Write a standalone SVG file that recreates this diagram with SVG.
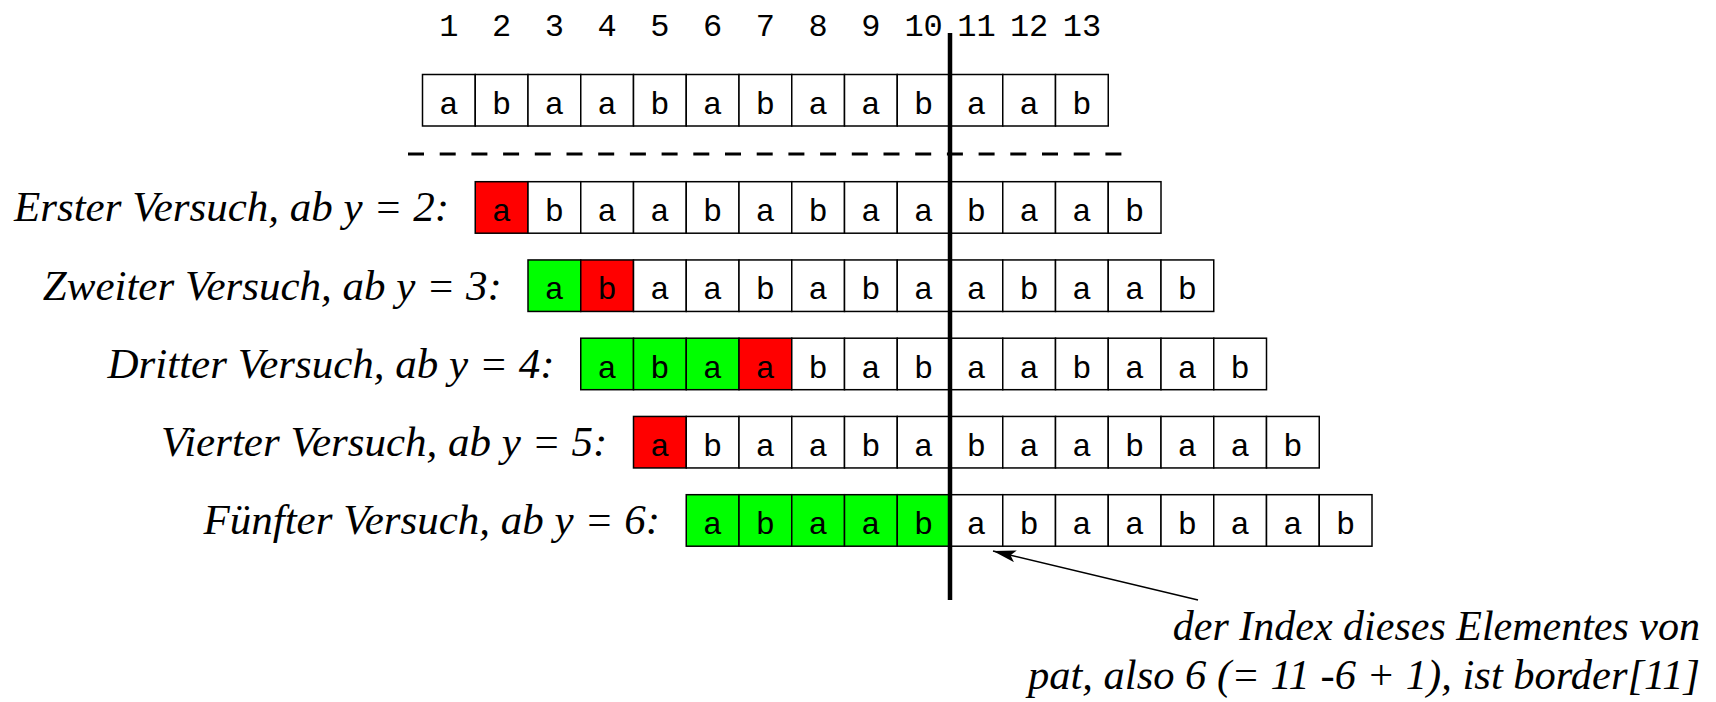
<svg xmlns="http://www.w3.org/2000/svg" width="1716" height="702" viewBox="0 0 1716 702">
<defs>
<style>
.c{fill:#fff;stroke:#000;stroke-width:1.5}
.r{fill:#ff0000;stroke:#000;stroke-width:1.5}
.g{fill:#00ff00;stroke:#000;stroke-width:1.5}
.m{font-family:"Liberation Mono","Courier New",monospace;font-size:32px;fill:#000;text-anchor:middle}
.l{font-family:"Liberation Serif","Times New Roman",serif;font-style:italic;font-size:43px;fill:#000;text-anchor:end}
.n{font-family:"Liberation Serif","Times New Roman",serif;font-style:italic;font-size:42px;fill:#000;text-anchor:end}
</style>
<marker id="ah" markerUnits="userSpaceOnUse" markerWidth="26" markerHeight="14" refX="23" refY="6" orient="auto">
<path d="M0,0 L23,6 L0,12 L5,6 z" fill="#000"/>
</marker>
</defs>
<rect width="1716" height="702" fill="#fff"/>

<g id="indices" class="m">
<text x="448.9" y="36">1</text>
<text x="501.6" y="36">2</text>
<text x="554.4" y="36">3</text>
<text x="607.1" y="36">4</text>
<text x="659.9" y="36">5</text>
<text x="712.6" y="36">6</text>
<text x="765.4" y="36">7</text>
<text x="818.1" y="36">8</text>
<text x="870.9" y="36">9</text>
<text x="923.6" y="36">10</text>
<text x="976.4" y="36">11</text>
<text x="1029.1" y="36">12</text>
<text x="1081.9" y="36">13</text>
</g>

<g id="text-row" transform="translate(422.5,74.5)">
<rect class="c" x="0" y="0" width="52.75" height="51.5"/>
<rect class="c" x="52.75" y="0" width="52.75" height="51.5"/>
<rect class="c" x="105.5" y="0" width="52.75" height="51.5"/>
<rect class="c" x="158.25" y="0" width="52.75" height="51.5"/>
<rect class="c" x="211" y="0" width="52.75" height="51.5"/>
<rect class="c" x="263.75" y="0" width="52.75" height="51.5"/>
<rect class="c" x="316.5" y="0" width="52.75" height="51.5"/>
<rect class="c" x="369.25" y="0" width="52.75" height="51.5"/>
<rect class="c" x="422" y="0" width="52.75" height="51.5"/>
<rect class="c" x="474.75" y="0" width="52.75" height="51.5"/>
<rect class="c" x="527.5" y="0" width="52.75" height="51.5"/>
<rect class="c" x="580.25" y="0" width="52.75" height="51.5"/>
<rect class="c" x="633" y="0" width="52.75" height="51.5"/>
<g class="m">
<text x="26.4" y="39.5">a</text><text x="79.1" y="39.5">b</text><text x="131.9" y="39.5">a</text><text x="184.6" y="39.5">a</text><text x="237.4" y="39.5">b</text><text x="290.1" y="39.5">a</text><text x="342.9" y="39.5">b</text><text x="395.6" y="39.5">a</text><text x="448.4" y="39.5">a</text><text x="501.1" y="39.5">b</text><text x="553.9" y="39.5">a</text><text x="606.6" y="39.5">a</text><text x="659.4" y="39.5">b</text>
</g>
</g>

<path id="separator" d="M408,154 H1121.5" stroke="#000" stroke-width="3" stroke-dasharray="16 15.7" fill="none"/>

<g id="try1">
<text class="l" x="449" y="221.2">Erster Versuch, ab y = 2:</text>
<g transform="translate(475.25,181.7)">
<rect class="r" x="0" y="0" width="52.75" height="51.5"/>
<rect class="c" x="52.75" y="0" width="52.75" height="51.5"/>
<rect class="c" x="105.5" y="0" width="52.75" height="51.5"/>
<rect class="c" x="158.25" y="0" width="52.75" height="51.5"/>
<rect class="c" x="211" y="0" width="52.75" height="51.5"/>
<rect class="c" x="263.75" y="0" width="52.75" height="51.5"/>
<rect class="c" x="316.5" y="0" width="52.75" height="51.5"/>
<rect class="c" x="369.25" y="0" width="52.75" height="51.5"/>
<rect class="c" x="422" y="0" width="52.75" height="51.5"/>
<rect class="c" x="474.75" y="0" width="52.75" height="51.5"/>
<rect class="c" x="527.5" y="0" width="52.75" height="51.5"/>
<rect class="c" x="580.25" y="0" width="52.75" height="51.5"/>
<rect class="c" x="633" y="0" width="52.75" height="51.5"/>
<g class="m">
<text x="26.4" y="39.5">a</text><text x="79.1" y="39.5">b</text><text x="131.9" y="39.5">a</text><text x="184.6" y="39.5">a</text><text x="237.4" y="39.5">b</text><text x="290.1" y="39.5">a</text><text x="342.9" y="39.5">b</text><text x="395.6" y="39.5">a</text><text x="448.4" y="39.5">a</text><text x="501.1" y="39.5">b</text><text x="553.9" y="39.5">a</text><text x="606.6" y="39.5">a</text><text x="659.4" y="39.5">b</text>
</g>
</g>
</g>

<g id="try2">
<text class="l" x="501.75" y="299.5">Zweiter Versuch, ab y = 3:</text>
<g transform="translate(528,259.95)">
<rect class="g" x="0" y="0" width="52.75" height="51.5"/>
<rect class="r" x="52.75" y="0" width="52.75" height="51.5"/>
<rect class="c" x="105.5" y="0" width="52.75" height="51.5"/>
<rect class="c" x="158.25" y="0" width="52.75" height="51.5"/>
<rect class="c" x="211" y="0" width="52.75" height="51.5"/>
<rect class="c" x="263.75" y="0" width="52.75" height="51.5"/>
<rect class="c" x="316.5" y="0" width="52.75" height="51.5"/>
<rect class="c" x="369.25" y="0" width="52.75" height="51.5"/>
<rect class="c" x="422" y="0" width="52.75" height="51.5"/>
<rect class="c" x="474.75" y="0" width="52.75" height="51.5"/>
<rect class="c" x="527.5" y="0" width="52.75" height="51.5"/>
<rect class="c" x="580.25" y="0" width="52.75" height="51.5"/>
<rect class="c" x="633" y="0" width="52.75" height="51.5"/>
<g class="m">
<text x="26.4" y="39.5">a</text><text x="79.1" y="39.5">b</text><text x="131.9" y="39.5">a</text><text x="184.6" y="39.5">a</text><text x="237.4" y="39.5">b</text><text x="290.1" y="39.5">a</text><text x="342.9" y="39.5">b</text><text x="395.6" y="39.5">a</text><text x="448.4" y="39.5">a</text><text x="501.1" y="39.5">b</text><text x="553.9" y="39.5">a</text><text x="606.6" y="39.5">a</text><text x="659.4" y="39.5">b</text>
</g>
</g>
</g>

<g id="try3">
<text class="l" x="554.5" y="377.7">Dritter Versuch, ab y = 4:</text>
<g transform="translate(580.75,338.2)">
<rect class="g" x="0" y="0" width="52.75" height="51.5"/>
<rect class="g" x="52.75" y="0" width="52.75" height="51.5"/>
<rect class="g" x="105.5" y="0" width="52.75" height="51.5"/>
<rect class="r" x="158.25" y="0" width="52.75" height="51.5"/>
<rect class="c" x="211" y="0" width="52.75" height="51.5"/>
<rect class="c" x="263.75" y="0" width="52.75" height="51.5"/>
<rect class="c" x="316.5" y="0" width="52.75" height="51.5"/>
<rect class="c" x="369.25" y="0" width="52.75" height="51.5"/>
<rect class="c" x="422" y="0" width="52.75" height="51.5"/>
<rect class="c" x="474.75" y="0" width="52.75" height="51.5"/>
<rect class="c" x="527.5" y="0" width="52.75" height="51.5"/>
<rect class="c" x="580.25" y="0" width="52.75" height="51.5"/>
<rect class="c" x="633" y="0" width="52.75" height="51.5"/>
<g class="m">
<text x="26.4" y="39.5">a</text><text x="79.1" y="39.5">b</text><text x="131.9" y="39.5">a</text><text x="184.6" y="39.5">a</text><text x="237.4" y="39.5">b</text><text x="290.1" y="39.5">a</text><text x="342.9" y="39.5">b</text><text x="395.6" y="39.5">a</text><text x="448.4" y="39.5">a</text><text x="501.1" y="39.5">b</text><text x="553.9" y="39.5">a</text><text x="606.6" y="39.5">a</text><text x="659.4" y="39.5">b</text>
</g>
</g>
</g>

<g id="try4">
<text class="l" x="607.25" y="456">Vierter Versuch, ab y = 5:</text>
<g transform="translate(633.5,416.45)">
<rect class="r" x="0" y="0" width="52.75" height="51.5"/>
<rect class="c" x="52.75" y="0" width="52.75" height="51.5"/>
<rect class="c" x="105.5" y="0" width="52.75" height="51.5"/>
<rect class="c" x="158.25" y="0" width="52.75" height="51.5"/>
<rect class="c" x="211" y="0" width="52.75" height="51.5"/>
<rect class="c" x="263.75" y="0" width="52.75" height="51.5"/>
<rect class="c" x="316.5" y="0" width="52.75" height="51.5"/>
<rect class="c" x="369.25" y="0" width="52.75" height="51.5"/>
<rect class="c" x="422" y="0" width="52.75" height="51.5"/>
<rect class="c" x="474.75" y="0" width="52.75" height="51.5"/>
<rect class="c" x="527.5" y="0" width="52.75" height="51.5"/>
<rect class="c" x="580.25" y="0" width="52.75" height="51.5"/>
<rect class="c" x="633" y="0" width="52.75" height="51.5"/>
<g class="m">
<text x="26.4" y="39.5">a</text><text x="79.1" y="39.5">b</text><text x="131.9" y="39.5">a</text><text x="184.6" y="39.5">a</text><text x="237.4" y="39.5">b</text><text x="290.1" y="39.5">a</text><text x="342.9" y="39.5">b</text><text x="395.6" y="39.5">a</text><text x="448.4" y="39.5">a</text><text x="501.1" y="39.5">b</text><text x="553.9" y="39.5">a</text><text x="606.6" y="39.5">a</text><text x="659.4" y="39.5">b</text>
</g>
</g>
</g>

<g id="try5">
<text class="l" x="660" y="534.2">Fünfter Versuch, ab y = 6:</text>
<g transform="translate(686.25,494.7)">
<rect class="g" x="0" y="0" width="52.75" height="51.5"/>
<rect class="g" x="52.75" y="0" width="52.75" height="51.5"/>
<rect class="g" x="105.5" y="0" width="52.75" height="51.5"/>
<rect class="g" x="158.25" y="0" width="52.75" height="51.5"/>
<rect class="g" x="211" y="0" width="52.75" height="51.5"/>
<rect class="c" x="263.75" y="0" width="52.75" height="51.5"/>
<rect class="c" x="316.5" y="0" width="52.75" height="51.5"/>
<rect class="c" x="369.25" y="0" width="52.75" height="51.5"/>
<rect class="c" x="422" y="0" width="52.75" height="51.5"/>
<rect class="c" x="474.75" y="0" width="52.75" height="51.5"/>
<rect class="c" x="527.5" y="0" width="52.75" height="51.5"/>
<rect class="c" x="580.25" y="0" width="52.75" height="51.5"/>
<rect class="c" x="633" y="0" width="52.75" height="51.5"/>
<g class="m">
<text x="26.4" y="39.5">a</text><text x="79.1" y="39.5">b</text><text x="131.9" y="39.5">a</text><text x="184.6" y="39.5">a</text><text x="237.4" y="39.5">b</text><text x="290.1" y="39.5">a</text><text x="342.9" y="39.5">b</text><text x="395.6" y="39.5">a</text><text x="448.4" y="39.5">a</text><text x="501.1" y="39.5">b</text><text x="553.9" y="39.5">a</text><text x="606.6" y="39.5">a</text><text x="659.4" y="39.5">b</text>
</g>
</g>
</g>

<g id="connectors">
<line x1="950" y1="33" x2="950" y2="600" stroke="#000" stroke-width="4.5"/>
<line x1="1198" y1="600" x2="993" y2="551" stroke="#000" stroke-width="1.5" marker-end="url(#ah)"/>
</g>

<g id="note">
<text class="n" x="1700" y="640">der Index dieses Elementes von</text>
<text class="n" x="1700" y="689" textLength="672" lengthAdjust="spacingAndGlyphs">pat, also 6 (= 11 -6 + 1), ist border[11]</text>
</g>
</svg>
